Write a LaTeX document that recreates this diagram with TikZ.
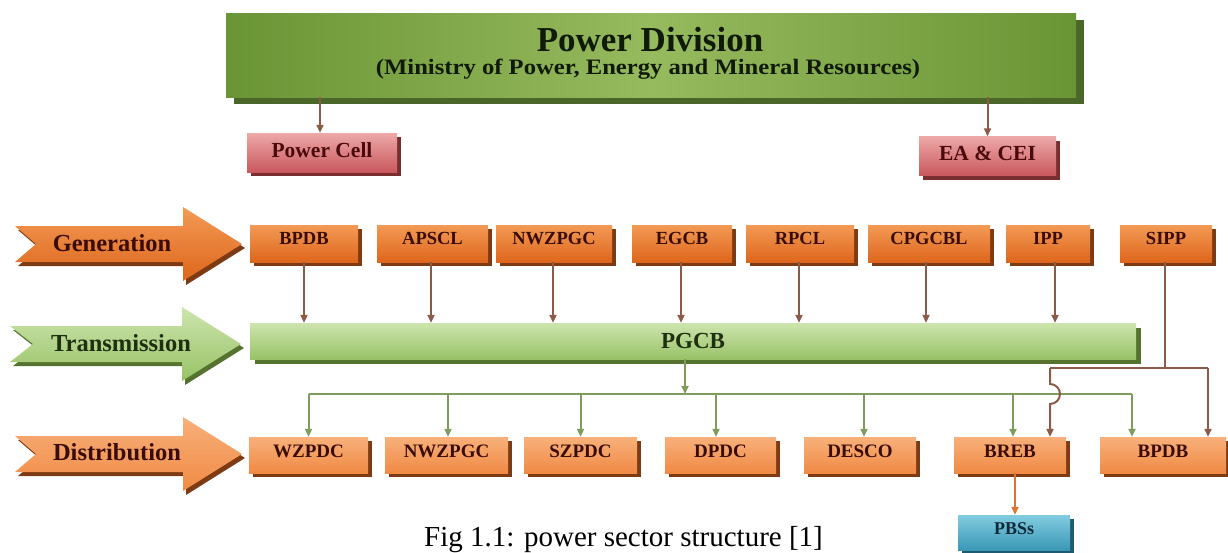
\documentclass[tikz,border=0pt]{standalone}
\usepackage{fontspec}
\setmainfont{Liberation Serif}
\usetikzlibrary{arrows.meta,shadows}
\definecolor{pdg1}{HTML}{6A9535}
\definecolor{pdg2}{HTML}{96BA5E}
\definecolor{pdsh}{HTML}{4B6629}
\definecolor{pdtx}{HTML}{101A08}
\definecolor{rd1}{HTML}{EDA8A8}
\definecolor{rd2}{HTML}{C9585E}
\definecolor{rdsh}{HTML}{7A2E30}
\definecolor{rdtx}{HTML}{4A0A0C}
\definecolor{or1}{HTML}{F39A55}
\definecolor{or2}{HTML}{DE661C}
\definecolor{orsh}{HTML}{7E3A12}
\definecolor{lo1}{HTML}{F8B07A}
\definecolor{lo2}{HTML}{F08A45}
\definecolor{txdk}{HTML}{3A0C08}
\definecolor{tg1}{HTML}{CDE5AE}
\definecolor{tg2}{HTML}{98C266}
\definecolor{tgsh}{HTML}{55732F}
\definecolor{tgtx}{HTML}{1E3010}
\definecolor{brn}{HTML}{8C5B48}
\definecolor{grl}{HTML}{7E9C5C}
\definecolor{orl}{HTML}{E0742F}
\definecolor{bl1}{HTML}{82CCE0}
\definecolor{bl2}{HTML}{3A98B6}
\definecolor{blsh}{HTML}{1F5A70}
\definecolor{bltx}{HTML}{0E2A38}
\begin{document}
\begin{tikzpicture}[x=1pt,y=-1pt,
  box/.style={inner sep=0pt, text=txdk},
  genbox/.style={box, minimum height=37pt, top color=or1, bottom color=or2,
     font=\bfseries\fontsize{18.5}{18.5}\selectfont, text height=12pt, text depth=10pt,
     general shadow={fill=orsh, shadow xshift=4pt, shadow yshift=-4pt}},
  disbox/.style={box, minimum height=36pt, top color=lo1, bottom color=lo2,
     font=\bfseries\fontsize{19}{19}\selectfont, text height=12.5pt, text depth=8pt,
     general shadow={fill=orsh, shadow xshift=4pt, shadow yshift=-4pt}},
  redbox/.style={box, minimum height=39pt, top color=rd1, bottom color=rd2, text=rdtx,
     font=\bfseries\fontsize{21.5}{21.5}\selectfont, text height=14pt, text depth=5pt,
     general shadow={fill=rdsh, shadow xshift=4pt, shadow yshift=-4pt}},
  barrow/.style={draw=brn, line width=2pt, -{Triangle[length=8pt,width=7pt]}},
  bline/.style={draw=brn, line width=2pt},
  garrow/.style={draw=grl, line width=2pt, -{Triangle[length=8pt,width=7pt]}},
  gline/.style={draw=grl, line width=2pt},
  sidelabel/.style={font=\bfseries\fontsize{24.5}{24.5}\selectfont},
]
\useasboundingbox (0,0) rectangle (1228,552);

% ---- Power Division
\node[inner sep=0pt, minimum width=850pt, minimum height=84pt,
  left color=pdg1, right color=pdg1, middle color=pdg2,
  general shadow={fill=pdsh, shadow xshift=8pt, shadow yshift=-7pt}] (pd) at (651,55) {};
\node[text=pdtx, font=\bfseries\fontsize{35}{35}\selectfont] (pdt) at (650,40) {Power Division};
\node[text=pdtx, font=\bfseries\fontsize{22}{22}\selectfont] (pds) at (648,69)
  {\scalebox{1.12}[1]{(Ministry of Power, Energy and Mineral Resources)}};

\node[redbox, minimum width=150pt] (pc) at (322,152.5) {Power Cell};
\node[redbox, minimum width=137pt] (ea) at (987.5,156) {EA \& CEI};
\draw[barrow] ([xshift=-2pt]pc.north |- pd.south) -- ([xshift=-2pt]pc.north);
\draw[barrow] (ea.north |- pd.south) -- (ea.north);

% ---- side arrows
\fill[orsh] (18,230) -- (186,230) -- (186,211) -- (245,248) -- (186,285) -- (186,266) -- (18,266) -- (39,248) -- cycle;
\path[top color=or1, bottom color=or2] (15,226) -- (183,226) -- (183,207) -- (242,244) -- (183,281) -- (183,262) -- (15,262) -- (36,244) -- cycle;
\node[sidelabel, text=txdk] (gen) at (112,243) {Generation};

\fill[tgsh] (13,330) -- (185,330) -- (185,311) -- (244,348) -- (185,385) -- (185,366) -- (13,366) -- (36,348) -- cycle;
\path[top color=tg1, bottom color=tg2] (10,326) -- (182,326) -- (182,307) -- (241,344) -- (182,381) -- (182,362) -- (10,362) -- (33,344) -- cycle;
\node[sidelabel, text=tgtx] (tra) at (121,343) {Transmission};

\fill[orsh] (18,440) -- (186,440) -- (186,421) -- (245,458) -- (186,495) -- (186,476) -- (18,476) -- (39,458) -- cycle;
\path[top color=lo1, bottom color=lo2] (15,436) -- (183,436) -- (183,417) -- (242,454) -- (183,491) -- (183,472) -- (15,472) -- (36,454) -- cycle;
\node[sidelabel, text=txdk] (dis) at (117,452) {Distribution};

% ---- generation boxes
\node[genbox, minimum width=108pt] (g1) at (304,243.5) {BPDB};
\node[genbox, minimum width=111pt] (g2) at (432.5,243.5) {APSCL};
\node[genbox, minimum width=116pt] (g3) at (554,243.5) {NWZPGC};
\node[genbox, minimum width=100pt] (g4) at (682,243.5) {EGCB};
\node[genbox, minimum width=108pt] (g5) at (800,243.5) {RPCL};
\node[genbox, minimum width=122pt] (g6) at (929,243.5) {CPGCBL};
\node[genbox, minimum width=84pt]  (g7) at (1048,243.5) {IPP};
\node[genbox, minimum width=92pt]  (g8) at (1166,243.5) {SIPP};

% ---- PGCB
\node[box, minimum width=886pt, minimum height=36pt, top color=tg1, bottom color=tg2,
  general shadow={fill=tgsh, shadow xshift=5pt, shadow yshift=-5pt},
  text=tgtx, font=\bfseries\fontsize{23}{23}\selectfont] (pgcb) at (693,341) {PGCB};

\draw[barrow] (g1.south) -- (g1.south |- pgcb.north);
\draw[barrow] ([xshift=-1.5pt]g2.south) -- ([xshift=-1.5pt]g2.south |- pgcb.north);
\draw[barrow] ([xshift=-1pt]g3.south) -- ([xshift=-1pt]g3.south |- pgcb.north);
\draw[barrow] ([xshift=-1pt]g4.south) -- ([xshift=-1pt]g4.south |- pgcb.north);
\draw[barrow] ([xshift=-1pt]g5.south) -- ([xshift=-1pt]g5.south |- pgcb.north);
\draw[barrow] ([xshift=-3pt]g6.south) -- ([xshift=-3pt]g6.south |- pgcb.north);
\draw[barrow] ([xshift=7pt]g7.south) -- ([xshift=7pt]g7.south |- pgcb.north);

% ---- distribution boxes
\node[disbox, minimum width=119pt] (d1) at (308.5,455) {WZPDC};
\node[disbox, minimum width=123pt] (d2) at (446.5,455) {NWZPGC};
\node[disbox, minimum width=113pt] (d3) at (580.5,455) {SZPDC};
\node[disbox, minimum width=111pt] (d4) at (720.5,455) {DPDC};
\node[disbox, minimum width=112pt] (d5) at (860,455) {DESCO};
\node[disbox, minimum width=112pt] (d6) at (1010,455) {BREB};
\node[disbox, minimum width=126pt] (d7) at (1163,455) {BPDB};

\node[box, minimum width=112pt, minimum height=35pt, top color=bl1, bottom color=bl2,
  general shadow={fill=blsh, shadow xshift=4pt, shadow yshift=-4pt},
  text=bltx, font=\bfseries\fontsize{18}{18}\selectfont, text height=12pt, text depth=8pt] (pbs) at (1014,532.5) {PBSs};

% ---- green bus
\coordinate (bus) at (685,394);
\draw[garrow] (pgcb.south -| bus) -- (bus);
\draw[gline] (d1.north |- bus) -- ([xshift=-31pt]d7.north |- bus);
\draw[garrow] (d1.north |- bus) -- (d1.north);
\draw[garrow] ([xshift=1.5pt]d2.north |- bus) -- ([xshift=1.5pt]d2.north);
\draw[garrow] (d3.north |- bus) -- (d3.north);
\draw[garrow] ([xshift=-4.5pt]d4.north |- bus) -- ([xshift=-4.5pt]d4.north);
\draw[garrow] ([xshift=4pt]d5.north |- bus) -- ([xshift=4pt]d5.north);
\draw[garrow] ([xshift=3pt]d6.north |- bus) -- ([xshift=3pt]d6.north);
\draw[garrow] ([xshift=-31pt]d7.north |- bus) -- ([xshift=-31pt]d7.north);

% ---- SIPP branch
\coordinate (sj) at (1165,368);
\coordinate (sl) at (1050,368);
\coordinate (sr) at (1208,368);
\draw[bline] (g8.south -| sj) -- (sj);
\draw[bline] (sl) -- (sr);
\draw[barrow] (sr) -- (sr |- d7.north);
\draw[barrow] (sl) -- ++(0,16) arc[start angle=90, end angle=-90, radius=10pt] -- (sl |- d6.north);

% ---- BREB to PBSs
\draw[draw=orl, line width=2pt, -{Triangle[length=8pt,width=7pt]}] ([xshift=5pt]d6.south) -- ([xshift=5pt]d6.south |- pbs.north);

% ---- caption
\node[anchor=base, inner sep=0pt, font=\fontsize{29}{29}\selectfont] (cap) at (623.5,546) {Fig 1.1: power sector structure [1]};
\end{tikzpicture}
\end{document}
